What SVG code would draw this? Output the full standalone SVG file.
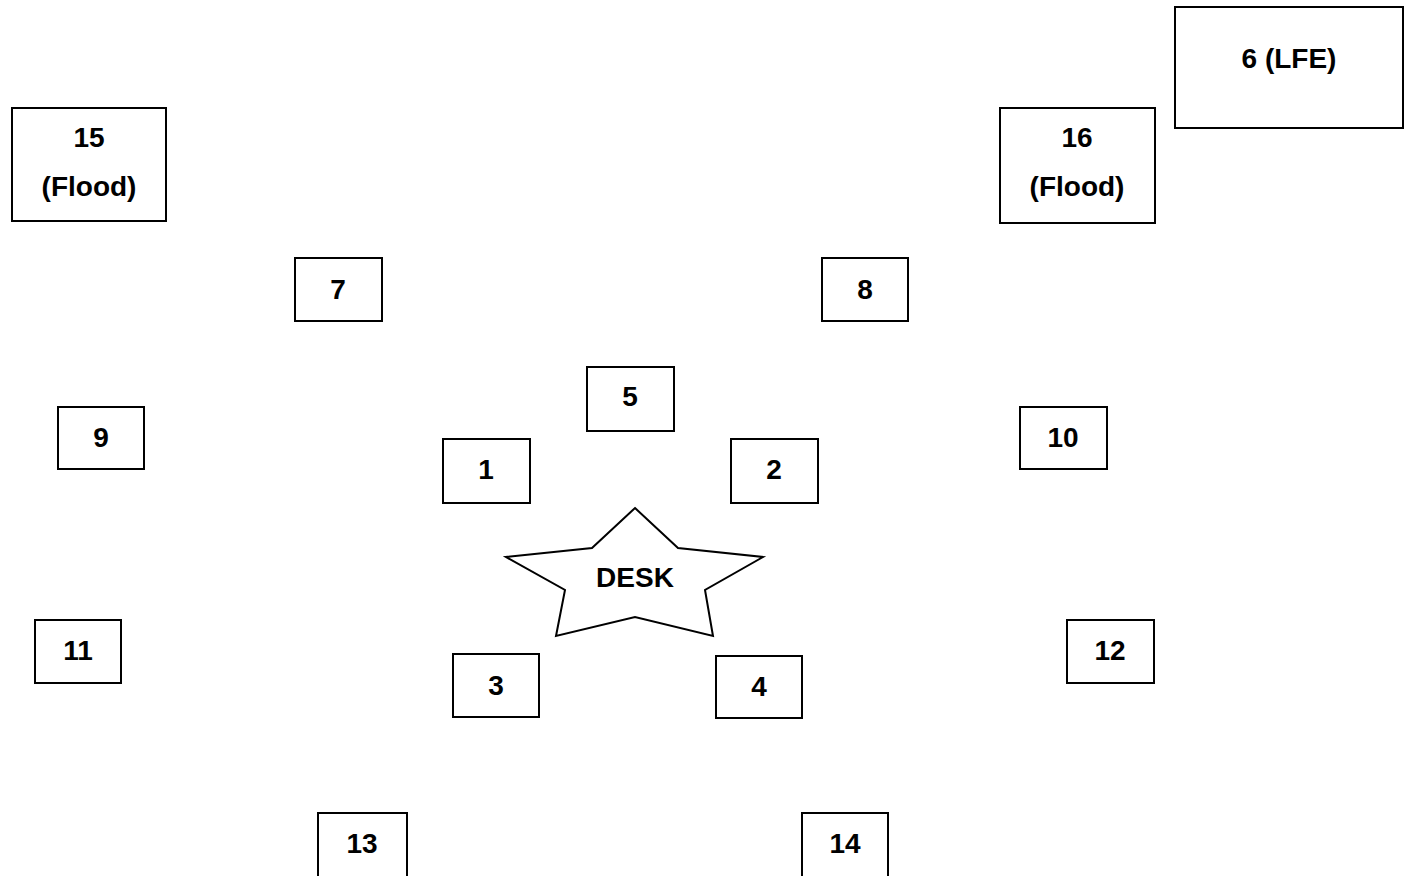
<svg xmlns="http://www.w3.org/2000/svg" width="1405" height="876" viewBox="0 0 1405 876">
<style>
rect.b{fill:#fff;stroke:#000;stroke-width:2}
.star{fill:#fff;stroke:#000;stroke-width:2;stroke-linejoin:miter}
text{font-family:"Liberation Sans",Arial,sans-serif;font-weight:bold;font-size:28px;text-anchor:middle;fill:#000}
</style>
<rect width="1405" height="876" fill="#fff"/>
<g id="n15"><rect class="b" x="12" y="108" width="154" height="113"/><text x="89" y="147">15</text><text x="89" y="196">(Flood)</text></g>
<g id="n16"><rect class="b" x="1000" y="108" width="155" height="115"/><text x="1077" y="147">16</text><text x="1077" y="196">(Flood)</text></g>
<g id="n6"><rect class="b" x="1175" y="7" width="228" height="121"/><text x="1289" y="68">6 (LFE)</text></g>
<g id="n7"><rect class="b" x="295" y="258" width="87" height="63"/><text x="338" y="299">7</text></g>
<g id="n8"><rect class="b" x="822" y="258" width="86" height="63"/><text x="865" y="299">8</text></g>
<g id="n5"><rect class="b" x="587" y="367" width="87" height="64"/><text x="630" y="406">5</text></g>
<g id="n9"><rect class="b" x="58" y="407" width="86" height="62"/><text x="101" y="447">9</text></g>
<g id="n10"><rect class="b" x="1020" y="407" width="87" height="62"/><text x="1063" y="447">10</text></g>
<g id="n1"><rect class="b" x="443" y="439" width="87" height="64"/><text x="486" y="479">1</text></g>
<g id="n2"><rect class="b" x="731" y="439" width="87" height="64"/><text x="774" y="479">2</text></g>
<g id="n11"><rect class="b" x="35" y="620" width="86" height="63"/><text x="78" y="660">11</text></g>
<g id="n12"><rect class="b" x="1067" y="620" width="87" height="63"/><text x="1110" y="660">12</text></g>
<g id="n3"><rect class="b" x="453" y="654" width="86" height="63"/><text x="496" y="695">3</text></g>
<g id="n4"><rect class="b" x="716" y="656" width="86" height="62"/><text x="759" y="696">4</text></g>
<g id="n13"><rect class="b" x="318" y="813" width="89" height="65"/><text x="362" y="853">13</text></g>
<g id="n14"><rect class="b" x="802" y="813" width="86" height="65"/><text x="845" y="853">14</text></g>
<g id="desk"><polygon class="star" points="635,508 678,548 763,557 705,590 713,636 635,617 556,636 565,590 506,557 592,548"/><text x="635" y="587">DESK</text></g>
<g id="connectors"></g>
</svg>
